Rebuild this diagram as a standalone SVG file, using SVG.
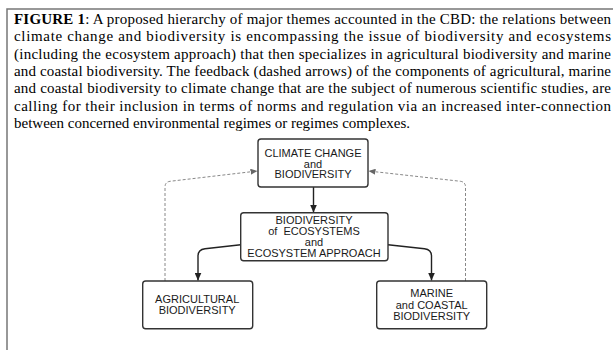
<svg xmlns="http://www.w3.org/2000/svg" width="613" height="350" viewBox="0 0 613 350">
<style>
.cap{font-family:"Liberation Serif","Times New Roman",serif;font-size:15px;fill:#000}
.b{font-weight:bold}
.box{fill:#fff;stroke:#333;stroke-width:1.4}
.lbl{font-family:"Liberation Sans",Arial,sans-serif;font-size:11px;fill:#1a1a1a;text-anchor:middle;white-space:pre}
.solid{fill:none;stroke:#222;stroke-width:1.4}
.dash{fill:none;stroke:#888;stroke-width:1;stroke-dasharray:3,2}
</style>
<defs>
<marker id="ah" markerUnits="userSpaceOnUse" markerWidth="8" markerHeight="7" refX="8" refY="3.5" orient="auto">
<path d="M0,0 L8,3.5 L0,7 z" fill="#222"/>
</marker>
<marker id="ahg" markerUnits="userSpaceOnUse" markerWidth="7" markerHeight="6" refX="7" refY="3" orient="auto">
<path d="M0,0 L7,3 L0,6 z" fill="#666"/>
</marker>
</defs>
<rect x="7" y="9" width="640" height="380" fill="#fff" stroke="#777" stroke-width="1.5"/>
<g id="caption">
<text class="cap" x="14" y="24" textLength="597" lengthAdjust="spacing"><tspan class="b">FIGURE 1</tspan>: A proposed hierarchy of major themes accounted in the CBD: the relations between</text>
<text class="cap" x="14" y="41.3" textLength="597" lengthAdjust="spacing">climate change and biodiversity is encompassing the issue of biodiversity and ecosystems</text>
<text class="cap" x="14" y="58.6" textLength="597" lengthAdjust="spacing">(including the ecosystem approach) that then specializes in agricultural biodiversity and marine</text>
<text class="cap" x="14" y="75.9" textLength="597" lengthAdjust="spacing">and coastal biodiversity. The feedback (dashed arrows) of the components of agricultural, marine</text>
<text class="cap" x="14" y="93.2" textLength="597" lengthAdjust="spacing">and coastal biodiversity to climate change that are the subject of numerous scientific studies, are</text>
<text class="cap" x="14" y="110.5" textLength="597" lengthAdjust="spacing">calling for their inclusion in terms of norms and regulation via an increased inter-connection</text>
<text class="cap" x="14" y="127.8">between concerned environmental regimes or regimes complexes.</text>
</g>
<g id="connectors">
<path class="solid" d="M313.5,187 L313.5,212.5" marker-end="url(#ah)"/>
<path class="solid" d="M240.7,244.7 L205,248.7 Q198,249.5 198,256 L198,280.5" marker-end="url(#ah)"/>
<path class="solid" d="M388,244.7 L424.5,248.7 Q431.5,249.5 431.5,256 L431.5,280.5" marker-end="url(#ah)"/>
<path class="dash" d="M165,281 L165,187 Q165,182 170,181.3 L257.5,171" marker-end="url(#ahg)"/>
<path class="dash" d="M465.5,281 L465.5,187 Q465.5,182 460.5,181.3 L368.5,171" marker-end="url(#ahg)"/>
</g>
<g id="climate">
<rect class="box" x="258" y="139" width="110" height="48" rx="3"/>
<text class="lbl" x="313" y="156.8">CLIMATE CHANGE</text>
<text class="lbl" x="313" y="167.6">and</text>
<text class="lbl" x="313" y="178.4">BIODIVERSITY</text>
</g>
<g id="ecosystems">
<rect class="box" x="240.7" y="212.7" width="147.3" height="48" rx="3"/>
<text class="lbl" x="314" y="224">BIODIVERSITY</text>
<text class="lbl" x="314" y="235.2">of  ECOSYSTEMS</text>
<text class="lbl" x="314" y="246.4">and</text>
<text class="lbl" x="314" y="257.4">ECOSYSTEM APPROACH</text>
</g>
<g id="agricultural">
<rect class="box" x="142.7" y="281" width="110" height="47.7" rx="3"/>
<text class="lbl" x="197.2" y="303.3">AGRICULTURAL</text>
<text class="lbl" x="197.2" y="314.2">BIODIVERSITY</text>
</g>
<g id="marine">
<rect class="box" x="376.7" y="281" width="110" height="47.7" rx="3"/>
<text class="lbl" x="431.7" y="297.3">MARINE</text>
<text class="lbl" x="431.7" y="308.7">and COASTAL</text>
<text class="lbl" x="431.7" y="320">BIODIVERSITY</text>
</g>
</svg>
